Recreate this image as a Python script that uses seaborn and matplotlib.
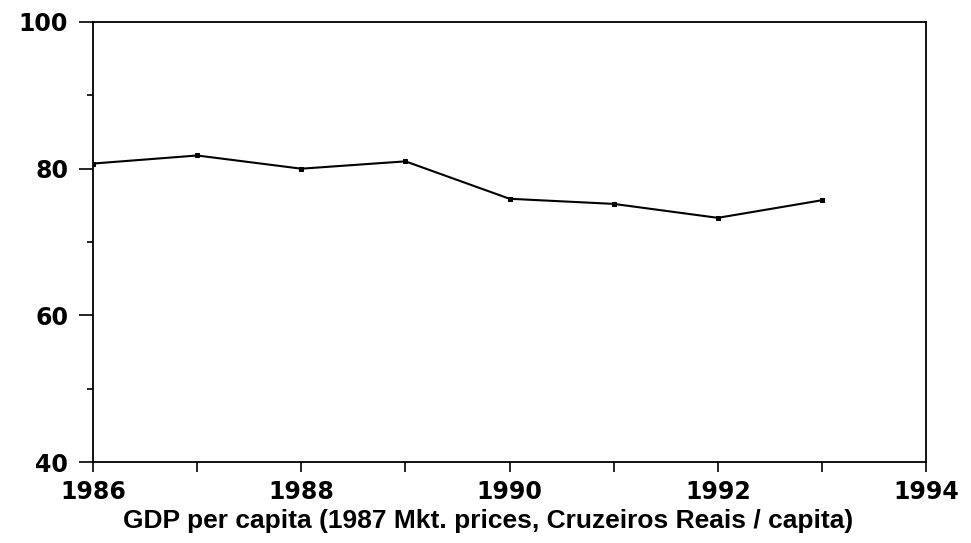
import matplotlib
matplotlib.use("Agg")
import matplotlib.pyplot as plt
from matplotlib.ticker import MultipleLocator
import pandas as pd
import seaborn as sns

# GDP per capita
years = [1986, 1987, 1988, 1989, 1990, 1991, 1992, 1993]
gdp_per_capita = [80.7, 81.8, 80.0, 81.0, 75.9, 75.2, 73.3, 75.7]
x_ticks = [1986, 1988, 1990, 1992, 1994]
y_ticks = [40, 60, 80, 100]
xlabel = "GDP per capita (1987 Mkt. prices, Cruzeiros Reais / capita)"

df = pd.DataFrame({"year": years, "gdp": gdp_per_capita})

sns.set_style("ticks")
plt.rcParams['font.family'] = ['DejaVu Sans']

fig = plt.figure(figsize=(9.71, 5.43), dpi=100)
ax = fig.add_axes([0.0958, 0.149, 0.858, 0.8105])

sns.lineplot(data=df, x="year", y="gdp", ax=ax, color="black", linewidth=1.5,
             marker="s", markersize=3.5, markeredgecolor="black")

ax.set_xlim(1986, 1994)
ax.set_ylim(40, 100)
ax.set_xticks(x_ticks)
ax.set_xticklabels([str(t) for t in x_ticks])
ax.xaxis.set_minor_locator(MultipleLocator(1))
ax.set_yticks(y_ticks)
ax.set_yticklabels([str(t) for t in y_ticks])
ax.yaxis.set_minor_locator(MultipleLocator(10))

for s in ax.spines.values():
    s.set_visible(True)
    s.set_linewidth(1.3)
    s.set_color("black")

ax.tick_params(axis="x", which="both", direction="out", length=7, width=1.2,
               pad=6, labelsize=17, top=False, colors="black")
ax.tick_params(axis="y", which="major", direction="out", length=10, width=1.2,
               pad=8, labelsize=17, right=False, colors="black")
ax.tick_params(axis="y", which="minor", direction="out", length=4, width=1.2,
               right=False, colors="black")
for lab in ax.get_xticklabels() + ax.get_yticklabels():
    lab.set_fontweight("bold")

ax.set_xlabel("")
ax.set_ylabel("")
fig.text(0.503, 0.040, xlabel, ha="center", va="center", fontsize=19,
         fontweight="bold", family="Liberation Sans", color="black")

fig.savefig("out.png", dpi=100)
